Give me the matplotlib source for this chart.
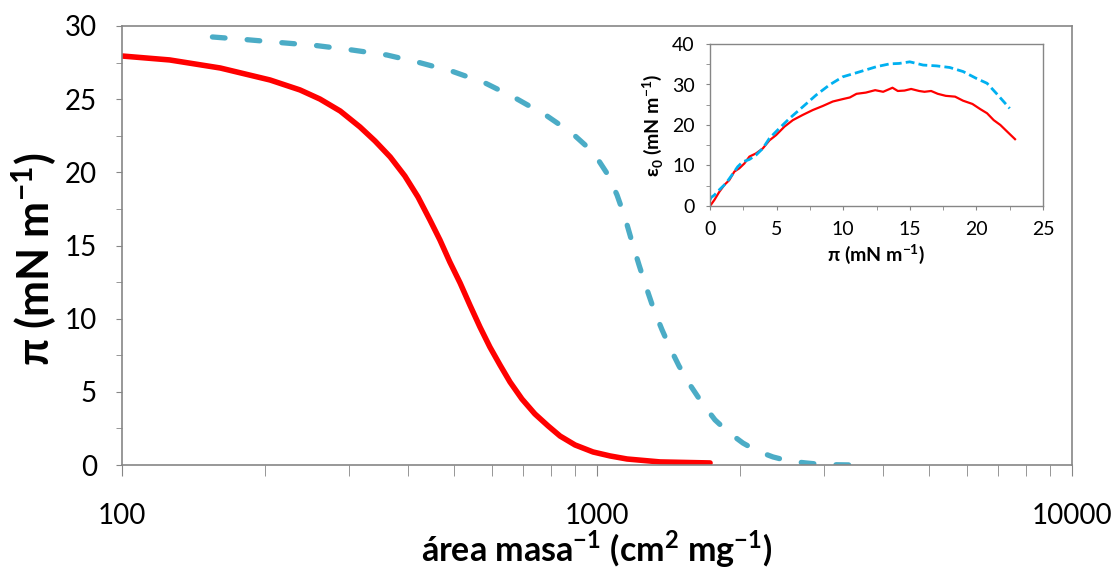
import numpy as np
import matplotlib
matplotlib.use("Agg")
import matplotlib.pyplot as plt
from matplotlib.ticker import MultipleLocator, LogLocator, FixedFormatter, FixedLocator

plt.rcParams['font.family'] = ['Lato', 'DejaVu Sans']
plt.rcParams['mathtext.fontset'] = 'custom'
plt.rcParams['mathtext.bf'] = 'Lato:bold'
plt.rcParams['mathtext.rm'] = 'Lato'

# main isotherm: surface pressure vs area per mass
area_red = [100, 126, 161, 205, 237, 261, 288, 317, 341, 367, 394, 420, 445,
            467, 490, 515, 540, 567, 595, 625, 656, 695, 740, 789, 836, 899,
            981, 1065, 1157, 1358, 1730]
pi_red = [27.95, 27.68, 27.13, 26.31, 25.63, 25.01, 24.19, 23.10, 22.14, 21.05,
          19.75, 18.31, 16.74, 15.38, 13.87, 12.44, 10.93, 9.43, 8.06, 6.83,
          5.67, 4.51, 3.49, 2.67, 1.98, 1.37, 0.89, 0.62, 0.41, 0.21, 0.14]

area_blue = [155, 181, 215, 257, 305, 361, 424, 498, 581, 672, 785, 836, 890,
             944, 1000, 1055, 1102, 1146, 1185, 1226, 1269, 1318, 1371, 1425,
             1488, 1570, 1664, 1772, 1887, 2029, 2172, 2347, 2536, 2754, 2991,
             3493]
pi_blue = [29.25, 29.08, 28.87, 28.66, 28.36, 28.02, 27.49, 26.88, 26.11, 25.09,
           23.85, 23.24, 22.62, 21.87, 20.98, 19.82, 18.45, 16.88, 15.24, 13.67,
           12.16, 10.59, 9.23, 8.00, 6.77, 5.47, 4.24, 3.08, 2.26, 1.50, 0.96,
           0.55, 0.27, 0.14, 0.03, 0.0]

# inset: elasticity vs surface pressure
pi_in_red = [0, 0.33, 0.70, 1.08, 1.45, 1.83, 2.2, 2.58, 2.96, 3.46, 3.96, 4.46,
             4.96, 5.59, 6.22, 6.97, 7.72, 8.47, 9.22, 9.97, 10.5, 11.0, 11.7,
             12.4, 13.0, 13.7, 14.1, 14.6, 15.1, 15.7, 16.1, 16.6, 17.1, 17.7,
             18.4, 19.0, 19.7, 20.3, 20.8, 21.3, 21.8, 22.3, 22.9]
e_in_red = [0, 1.5, 3.5, 5.2, 6.4, 8.5, 9.3, 10.5, 12.2, 13.0, 14.2, 16.2,
            17.5, 19.6, 21.2, 22.5, 23.7, 24.7, 25.8, 26.4, 26.8, 27.7, 28.0,
            28.6, 28.2, 29.2, 28.4, 28.5, 28.9, 28.4, 28.2, 28.4, 27.7, 27.2,
            27.0, 26.0, 25.2, 23.9, 22.9, 21.2, 20.0, 18.4, 16.5]

pi_in_blue = [0, 0.08, 0.33, 0.70, 1.2, 1.7, 2.08, 2.46, 2.96, 3.46, 3.96, 4.46,
              5.21, 5.96, 6.97, 7.97, 8.97, 9.97, 11.0, 11.7, 12.5, 13.5, 14.2,
              15.0, 16.0, 17.0, 18.0, 19.0, 20.0, 20.8, 21.5, 22.5]
e_in_blue = [1.5, 2.1, 2.7, 4.0, 5.6, 7.9, 9.7, 10.9, 11.5, 12.6, 14.2, 16.7,
             19.2, 21.6, 24.5, 27.4, 29.9, 31.9, 32.9, 33.6, 34.4, 35.1, 35.2,
             35.6, 34.8, 34.6, 34.2, 33.2, 31.5, 30.3, 27.8, 24.1]

gray = '#868686'
W, H = 1116, 571
fig = plt.figure(figsize=(W / 100, H / 100), dpi=100)

ax = fig.add_axes([122 / W, 1 - 465 / H, 950 / W, 439 / H])
ax.plot(area_red, pi_red, color='#FF0000', lw=4.0, solid_capstyle='round',
        solid_joinstyle='round')
ax.plot(area_blue, pi_blue, color='#4BACC6', lw=3.8, dashes=(2.4, 4.2),
        dash_capstyle='round', dash_joinstyle='round')
ax.set_xscale('log')
ax.set_xlim(100, 10000)
ax.set_ylim(0, 30)
ax.yaxis.set_major_locator(MultipleLocator(5))
ax.yaxis.set_minor_locator(MultipleLocator(2.5))
ax.xaxis.set_major_locator(FixedLocator([100, 1000, 10000]))
ax.xaxis.set_major_formatter(FixedFormatter(['100', '1000', '10000']))
ax.xaxis.set_minor_locator(LogLocator(base=10, subs=np.arange(2, 10)))
ax.xaxis.set_minor_formatter(plt.NullFormatter())
for s in ax.spines.values():
    s.set_color(gray)
    s.set_linewidth(1.2)
ax.tick_params(axis='y', which='both', direction='out', length=4, color=gray,
               labelsize=20, pad=14)
ax.tick_params(axis='x', which='both', direction='out', length=8, color=gray,
               labelsize=20, pad=19)
fig.text(597 / W, 1 - 549 / H,
         r'área masa$^{\mathbf{-1}}$ (cm$^{\mathbf{2}}$ mg$^{\mathbf{-1}}$)',
         fontsize=24.5, fontweight='bold', ha='center', va='center')
fig.text(34 / W, 1 - 259 / H, r'π (mN m$^{\mathbf{-1}}$)', fontsize=31,
         fontweight='bold', rotation=90, ha='center', va='center')

ins = fig.add_axes([710 / W, 1 - 206 / H, 333 / W, 162 / H])
ins.plot(pi_in_red, e_in_red, color='#FF0000', lw=1.6)
ins.plot(pi_in_blue, e_in_blue, color='#00B0F0', lw=2.0, dashes=(3.2, 1.5))
ins.set_xlim(0, 25)
ins.set_ylim(0, 40)
ins.xaxis.set_major_locator(MultipleLocator(5))
ins.xaxis.set_minor_locator(MultipleLocator(2.5))
ins.yaxis.set_major_locator(MultipleLocator(10))
ins.yaxis.set_minor_locator(MultipleLocator(5))
for s in ins.spines.values():
    s.set_color(gray)
    s.set_linewidth(1.0)
ins.tick_params(which='both', direction='out', length=3, color=gray,
                labelsize=14, pad=8)
ins.set_xlabel(r'π (mN m$^{\mathbf{-1}}$)', fontsize=14, fontweight='bold',
               labelpad=3)
ins.set_ylabel(r'ε$_{\mathbf{0}}$ (mN m$^{\mathbf{-1}}$)', fontsize=14,
               fontweight='bold', labelpad=5)

fig.savefig('out.png', dpi=100)
